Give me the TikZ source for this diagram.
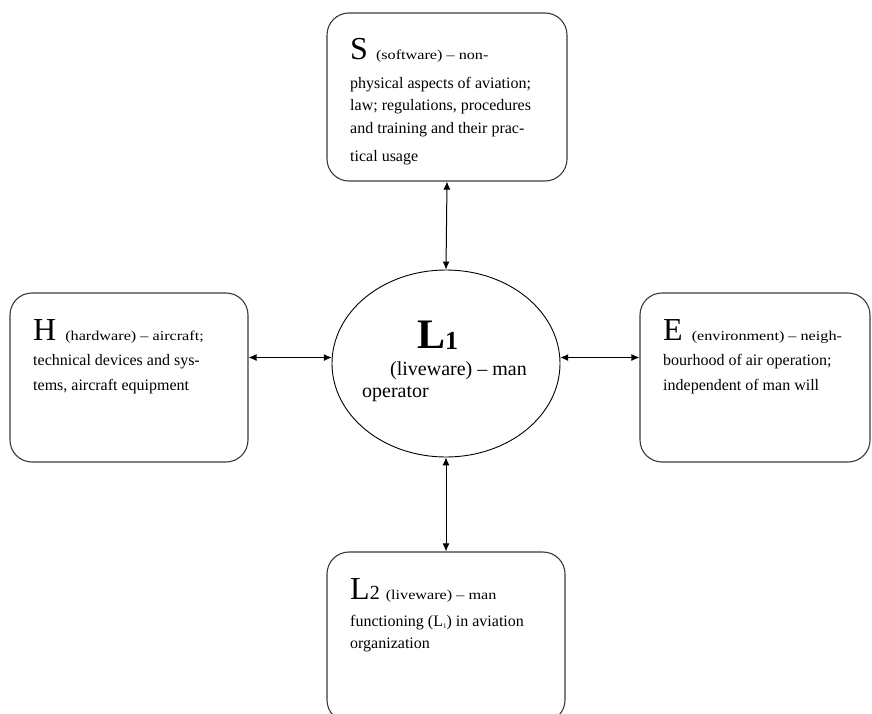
\documentclass[tikz,border=0pt]{standalone}
\usepackage{fontspec}
\setmainfont{Liberation Serif}
\newfontfamily\widefont[FakeStretch=1.2]{Liberation Serif}
\usetikzlibrary{arrows.meta,positioning,shapes}
\definecolor{shelline}{HTML}{3A3A3A}
\newcommand{\parenfont}{\widefont\fontsize{13.5}{13.5}\selectfont}
\newcommand{\bigletter}{\fontsize{32}{32}\selectfont}
\newcommand{\lowone}{\raisebox{-2pt}{\fontsize{7}{7}\selectfont 1}}

\begin{document}
\begin{tikzpicture}[x=1pt,y=-1pt,
    box/.style={draw=shelline,line width=1.1pt,rounded corners=22pt,inner sep=0pt},
    txt/.style={anchor=base west,align=left,inner sep=0pt,font=\fontsize{16}{25}\selectfont},
    arr/.style={<->,>={Latex[length=8pt,width=7pt]},line width=1pt}
]
\useasboundingbox (0,0) rectangle (872,714);
% the four SHEL blocks and L in the middle
\node[box,minimum width=240pt,minimum height=168pt] (S) at (447,97) {};
\node[box,minimum width=238pt,minimum height=169pt] (H) at (129,377.5) {};
\node[box,minimum width=230pt,minimum height=169pt] (E) at (755,377.5) {};
\node[box,minimum width=238pt,minimum height=170pt] (L2) at (446,637) {};
\node[ellipse,draw,line width=0.9pt,minimum width=228pt,minimum height=187pt,inner sep=0pt] (L1) at (446,363.5) {};

% texts: base = baseline of the last line
\node[txt,font=\fontsize{16}{22}\selectfont] (Stxt) at (350,162) {{\bigletter S}\hspace{8pt}{\parenfont (software) – non-}\\[7pt]
    physical aspects of aviation;\\ law; regulations, procedures\\ and training and their prac-\\[7pt] tical usage};
\node[txt] (Htxt) at (33,390) {{\bigletter H}\hspace{9pt}{\parenfont (hardware) – aircraft;}\\
    technical devices and sys-\\ tems, aircraft equipment};
\node[txt] (Etxt) at (663,390) {{\bigletter E}\hspace{9pt}{\parenfont (environment) – neigh-}\\
    bourhood of air operation;\\ independent of man will};
\node[txt,font=\fontsize{16}{22}\selectfont] (L2txt) at (350,648) {{\bigletter L}{\fontsize{20}{20}\selectfont 2}\hspace{6pt}{\parenfont (liveware) – man}\\[5pt]
    functioning (L\lowone) in aviation\\ organization};
\node[txt] (L1lbl) at (417,348) {{\fontsize{42}{42}\selectfont\bfseries L}\raisebox{-1pt}{\fontsize{26}{26}\selectfont\bfseries 1}};
\node[txt,font=\fontsize{20}{22}\selectfont] (L1txt) at (362,397) {\hspace*{28pt}(liveware) – man\\ operator};

\draw[arr] (S.south) -- (L1.north);
\draw[arr] (L1.south) -- (L2.north);
\draw[arr] (H.east |- L1.177) -- (L1.177);
\draw[arr] (L1.3) -- (E.west |- L1.3);
\end{tikzpicture}
\end{document}
